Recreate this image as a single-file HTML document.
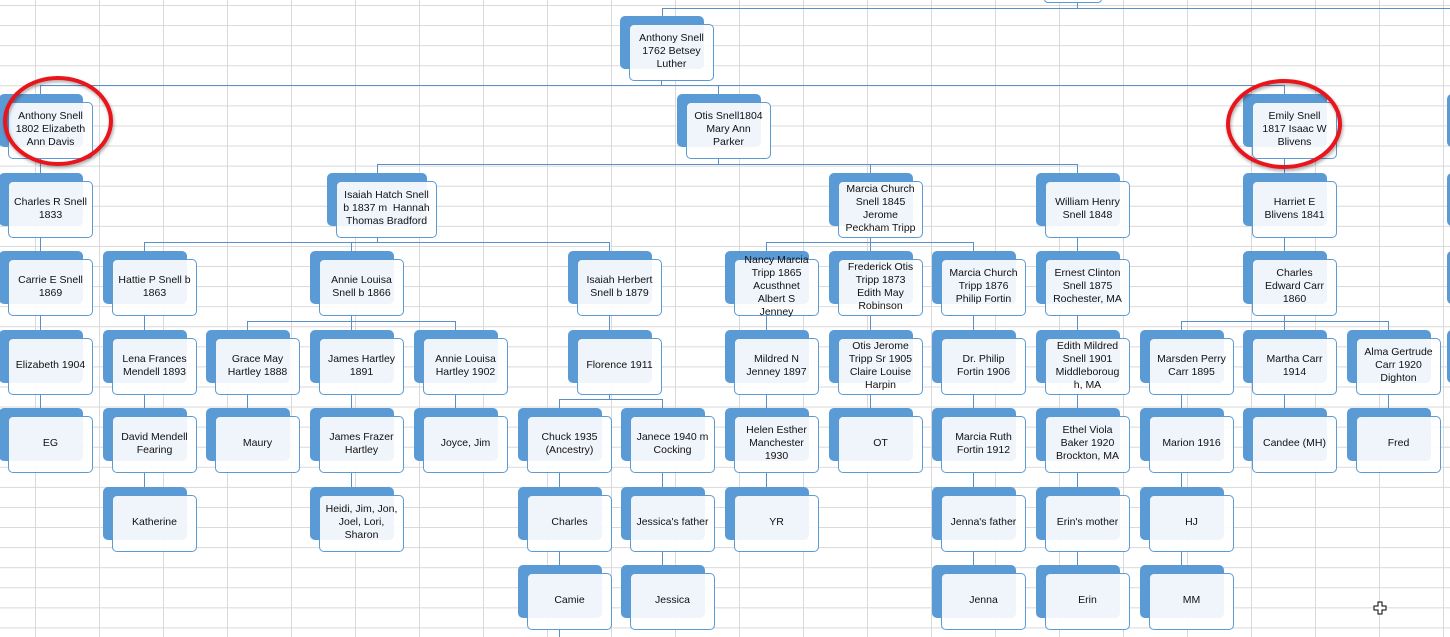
<!DOCTYPE html>
<html><head><meta charset="utf-8">
<style>
html,body{margin:0;padding:0;width:1450px;height:637px;overflow:hidden;background:#fff;}
#c{position:relative;width:1450px;height:637px;overflow:hidden;
background-image:linear-gradient(to right,#d9d9d9 1px,transparent 1px),linear-gradient(to bottom,#d9d9d9 1px,transparent 1px);
background-size:64px 20.08px;background-position:35px 5px;}
.b{position:absolute;width:84px;height:53px;background:#5b9bd5;border-radius:5px;}
.f{position:absolute;width:83px;height:53px;background:rgba(255,255,255,0.9);border:1.3px solid #5b9bd5;border-radius:5px;
display:flex;align-items:center;justify-content:center;text-align:center;font-family:"Liberation Sans",sans-serif;font-size:10.5px;line-height:13px;color:#111;white-space:nowrap;padding-bottom:2px;box-sizing:content-box;}
.h{position:absolute;height:1.3px;background:#5b8fc9;}
.v{position:absolute;width:1.3px;background:#5b8fc9;}
svg{position:absolute;left:0;top:0;}
</style></head><body><div id="c"></div>
<script>
var C=document.getElementById('c');
function X(c){return Math.round(8+103.7*c);}
function T(r){return Math.round(24+78.45*r);}
var N={};
function add(id,x,r,txt,w){N[id]={x:x,r:r,w:w||85,t:txt};}
add('top',629,0,'Anthony Snell<br>1762 Betsey<br>Luther');
add('a1802',X(0),1,'Anthony Snell<br>1802 Elizabeth<br>Ann Davis');
add('otis',686,1,'Otis Snell1804<br>Mary Ann<br>Parker');
add('emily',X(12),1,'Emily Snell<br>1817 Isaac W<br>Blivens');
add('charlesR',X(0),2,'Charles R Snell<br>1833');
add('isaiahH',336,2,'Isaiah Hatch Snell<br>b 1837 m&nbsp; Hannah<br>Thomas Bradford',101);
add('marciaC',X(8),2,'Marcia Church<br>Snell 1845<br>Jerome<br>Peckham Tripp');
add('william',X(10),2,'William Henry<br>Snell 1848');
add('harriet',X(12),2,'Harriet E<br>Blivens 1841');
add('carrie',X(0),3,'Carrie E Snell<br>1869');
add('hattie',X(1),3,'Hattie P Snell b<br>1863');
add('annie',X(3),3,'Annie Louisa<br>Snell b 1866');
add('isaiahHb',577,3,'Isaiah Herbert<br>Snell b 1879');
add('nancy',X(7),3,'Nancy Marcia<br>Tripp 1865<br>Acusthnet<br>Albert S<br>Jenney');
add('fred1873',X(8),3,'Frederick Otis<br>Tripp 1873<br>Edith May<br>Robinson');
add('marciaT',X(9),3,'Marcia Church<br>Tripp 1876<br>Philip Fortin');
add('ernest',X(10),3,'Ernest Clinton<br>Snell 1875<br>Rochester, MA');
add('charlesC',X(12),3,'Charles<br>Edward Carr<br>1860');
add('eliz',X(0),4,'Elizabeth 1904');
add('lena',X(1),4,'Lena Frances<br>Mendell 1893');
add('grace',X(2),4,'Grace May<br>Hartley 1888');
add('james',X(3),4,'James Hartley<br>1891');
add('annieH',X(4),4,'Annie Louisa<br>Hartley 1902');
add('flor',577,4,'Florence 1911');
add('mildred',X(7),4,'Mildred N<br>Jenney 1897');
add('otisJ',X(8),4,'Otis Jerome<br>Tripp Sr 1905<br>Claire Louise<br>Harpin');
add('philip',X(9),4,'Dr. Philip<br>Fortin 1906');
add('edith',X(10),4,'Edith Mildred<br>Snell 1901<br>Middleboroug<br>h, MA');
add('marsden',X(11),4,'Marsden Perry<br>Carr 1895');
add('martha',X(12),4,'Martha Carr<br>1914');
add('alma',X(13),4,'Alma Gertrude<br>Carr 1920<br>Dighton');
add('eg',X(0),5,'EG');
add('david',X(1),5,'David Mendell<br>Fearing');
add('maury',X(2),5,'Maury');
add('jamesF',X(3),5,'James Frazer<br>Hartley');
add('joyce',X(4),5,'Joyce, Jim');
add('chuck',X(5),5,'Chuck 1935<br>(Ancestry)');
add('janece',X(6),5,'Janece 1940 m<br>Cocking');
add('helen',X(7),5,'Helen Esther<br>Manchester<br>1930');
add('ot',X(8),5,'OT');
add('marciaR',X(9),5,'Marcia Ruth<br>Fortin 1912');
add('ethel',X(10),5,'Ethel Viola<br>Baker 1920<br>Brockton, MA');
add('marion',X(11),5,'Marion 1916');
add('candee',X(12),5,'Candee (MH)');
add('fredC',X(13),5,'Fred');
add('kath',X(1),6,'Katherine');
add('heidi',X(3),6,'Heidi, Jim, Jon,<br>Joel, Lori,<br>Sharon');
add('charles',X(5),6,'Charles');
add('jesF',X(6),6,'Jessica\'s father');
add('yr',X(7),6,'YR');
add('jenF',X(9),6,'Jenna\'s father');
add('erinM',X(10),6,'Erin\'s mother');
add('hj',X(11),6,'HJ');
add('camie',X(5),7,'Camie');
add('jessica',X(6),7,'Jessica');
add('jenna',X(9),7,'Jenna');
add('erin',X(10),7,'Erin');
add('mm',X(11),7,'MM');
var E={top:['a1802','otis','emily'],a1802:['charlesR'],otis:['isaiahH','marciaC','william'],emily:['harriet'],
charlesR:['carrie'],isaiahH:['hattie','annie','isaiahHb'],marciaC:['nancy','fred1873','marciaT'],william:['ernest'],harriet:['charlesC'],
carrie:['eliz'],hattie:['lena'],annie:['grace','james','annieH'],isaiahHb:['flor'],nancy:['mildred'],fred1873:['otisJ'],marciaT:['philip'],ernest:['edith'],charlesC:['marsden','martha','alma'],
eliz:['eg'],lena:['david'],grace:['maury'],james:['jamesF'],annieH:['joyce'],flor:['chuck','janece'],mildred:['helen'],otisJ:['ot'],philip:['marciaR'],edith:['ethel'],marsden:['marion'],martha:['candee'],alma:['fredC'],
david:['kath'],jamesF:['heidi'],chuck:['charles'],janece:['jesF'],helen:['yr'],marciaR:['jenF'],ethel:['erinM'],marion:['hj'],
charles:['camie'],jesF:['jessica'],jenF:['jenna'],erinM:['erin'],hj:['mm']};
function el(cls,l,t,w,h,html){var d=document.createElement('div');d.className=cls;d.style.left=l+'px';d.style.top=t+'px';
if(w!=null)d.style.width=w+'px';if(h!=null)d.style.height=h+'px';if(html)d.innerHTML=html;C.appendChild(d);return d;}
function vx(n){return n.x+(n.w===85?32:41);}
// lines
for(var p in E){var P=N[p];var py=T(P.r)+55;var by=T(P.r+1)-17;var xs=[vx(P)];
E[p].forEach(function(k){xs.push(vx(N[k]));el('v',vx(N[k]),by,null,T(P.r+1)-8-by+2);});
el('v',vx(P),py,null,by-py+1);var mn=Math.min.apply(null,xs),mx=Math.max.apply(null,xs);el('h',mn,by,mx-mn+1.3,null);}
// top connectors
el('h',662,8,788,null);el('v',662,8,null,9);el('v',1077,0,null,9);
el('v',559,627,null,12);
// partial nodes edges
var tb=document.createElement('div');tb.style.cssText='position:absolute;left:1044px;top:-5px;width:56px;height:6px;border:1.3px solid #5b9bd5;border-radius:4px;background:#fff';C.appendChild(tb);
[1,2,3,4].forEach(function(r){el('b',1447,T(r)-8,20,53);});
// nodes
for(var k in N){var n=N[k];var t=T(n.r);
el('b',n.x-9,t-8,n.w-1,53);
el('f',n.x,t,n.w-2,53,n.t);}
</script>
<svg width="1450" height="637">
<defs><filter id="s" x="-20%" y="-20%" width="140%" height="140%"><feDropShadow dx="1" dy="2" stdDeviation="1.5" flood-color="#000" flood-opacity="0.35"/></filter></defs>
<ellipse cx="58" cy="121" rx="53" ry="43" fill="none" stroke="#e8141c" stroke-width="4" filter="url(#s)"/>
<ellipse cx="1284" cy="124" rx="56" ry="43" fill="none" stroke="#e8141c" stroke-width="4" filter="url(#s)"/>
<g transform="translate(1380,608)" fill="#fff" stroke="#000" stroke-width="1">
<path d="M-2,-6 H2 V-2 H6 V2 H2 V6 H-2 V2 H-6 V-2 H-2 Z"/></g>
</svg>
</body></html>
